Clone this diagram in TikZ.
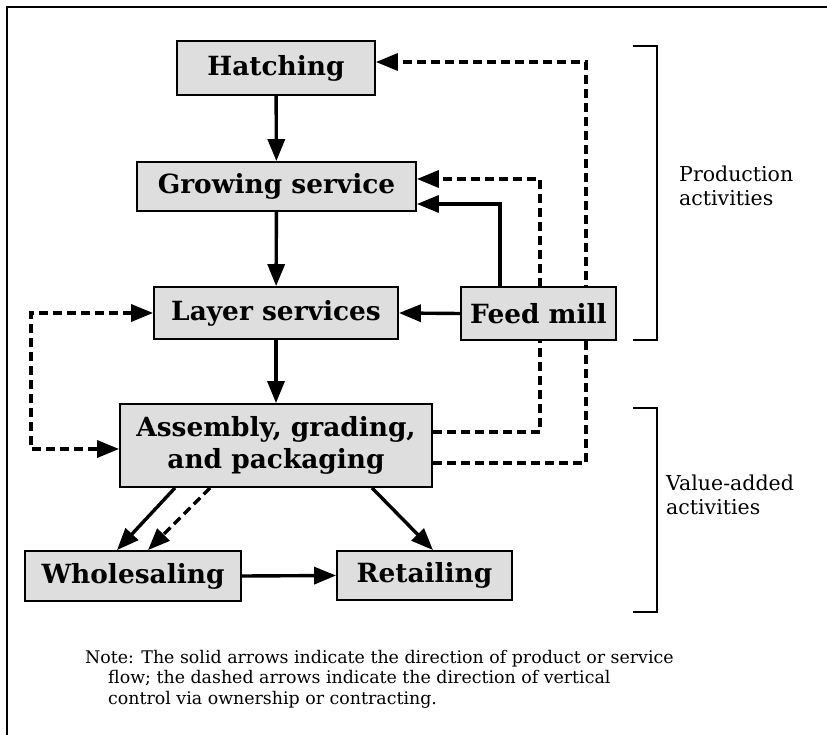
\documentclass[tikz,border=0pt]{standalone}
\usepackage{fontspec}
\setmainfont{DejaVu Serif}
\usetikzlibrary{arrows.meta,calc}
\pgfdeclarelayer{bg}
\pgfsetlayers{bg,main}
\tikzset{
  box/.style={draw, line width=1.8pt, fill=black!13, inner sep=0pt, align=center,
    font=\bfseries\fontsize{26.4}{32}\selectfont},
  tip/.style={},
  flow/.style={line width=3.4pt, -{Triangle[length=22pt,width=17pt]}},
  ctrl/.style={line width=3.4pt, dash pattern=on 9pt off 5pt, -{Triangle[length=22pt,width=17pt]}},
  ctrlboth/.style={line width=3.4pt, dash pattern=on 9pt off 5pt, {Triangle[length=22pt,width=17pt]}-{Triangle[length=22pt,width=17pt]}},
  lab/.style={font=\fontsize{20.5}{24}\selectfont, align=left, anchor=west, inner sep=0pt},
  bracketline/.style={line width=1.8pt},
}
\begin{document}
\begin{tikzpicture}[x=1pt,y=-1pt]
\useasboundingbox (0,0) rectangle (827,735);
\draw[line width=2.2pt] (7,735) -- (7,7) -- (827,7);

% nodes
\node[box, minimum width=198pt, minimum height=54pt] (hatch) at (276,68) {Hatching};
\node[box, minimum width=279pt, minimum height=49pt] (grow) at (276.5,186.5) {Growing service};
\node[box, minimum width=244pt, minimum height=52pt] (layer) at (276,313) {Layer services};
\node[box, minimum width=155pt, minimum height=53pt] (feed) at (538.5,313.5) {Feed mill};
\node[box, minimum width=312pt, minimum height=83pt] (assem) at (276,445.5) {Assembly, grading,\\and packaging};
\node[box, minimum width=216pt, minimum height=50pt] (whole) at (133,576) {Wholesaling};
\node[box, minimum width=175pt, minimum height=49pt] (retail) at (424.5,575.5) {Retailing};

% corner coordinates
\coordinate (cH) at (586,62);
\coordinate (cG) at (540,179);
\coordinate (cF) at (500,204);
\coordinate (cL) at (31,449);

\begin{pgfonlayer}{bg}
% product / service flow
\draw[flow] (hatch) -- (grow);
\draw[flow] (grow) -- (layer);
\draw[flow] (layer) -- (assem);
\draw[flow] (feed.west) -- (layer.east);
\draw[flow] (feed.north -| cF) |- (grow.east |- cF);
\draw[flow] ([xshift=-101pt]assem.south) -- ([xshift=-16pt]whole.north);
\draw[flow] ([xshift=96pt]assem.south) -- ([xshift=8.5pt]retail.north);
\draw[flow] (whole.east) -- (retail.west);
% control
\draw[ctrl] ([yshift=13.5pt]assem.east) -| (cG) -- (grow.east |- cG);
\draw[ctrl] ([yshift=-17.5pt]assem.east) -| (cH) -- (hatch.east |- cH);
\draw[ctrlboth] (layer.west) -| (cL) -- (assem.west |- cL);
\draw[ctrl] ([xshift=-66pt]assem.south) -- ([xshift=15pt]whole.north);
\end{pgfonlayer}

% brackets
\draw[bracketline] (633,46) -| (657,340) -- (633,340);
\draw[bracketline] (633,408) -| (657,612) -- (633,612);
\node[lab] (prod) at (679,186) {Production\\activities};
\node[lab] (valadd) at (666,495) {Value-added\\activities};

% note
\node[anchor=north west, inner sep=0pt, align=left, font=\fontsize{17.4}{20.5}\selectfont] (note) at (85,650)
 {Note: The solid arrows indicate the direction of product or service\\
  \hspace*{23pt}flow; the dashed arrows indicate the direction of vertical\\
  \hspace*{23pt}control via ownership or contracting.};
\end{tikzpicture}
\end{document}
